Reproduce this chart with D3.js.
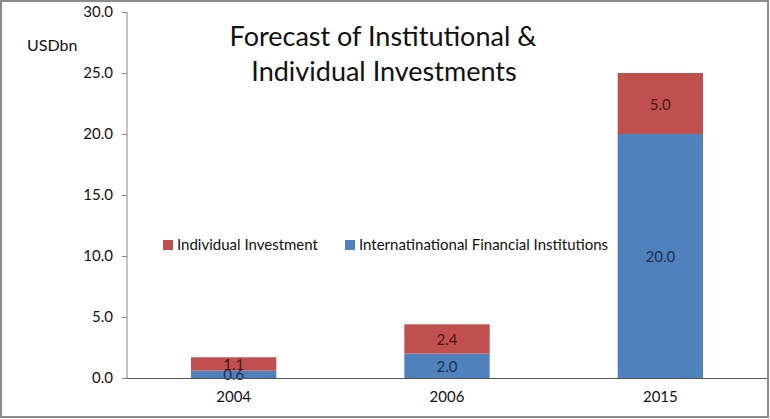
<!DOCTYPE html>
<html>
<head>
<meta charset="utf-8">
<title>Forecast of Institutional & Individual Investments</title>
<script src="https://cdn.jsdelivr.net/npm/d3@7"></script>
<style>
  body { margin: 0; background: #fff; }
  text { font-family: Lato, "Open Sans", sans-serif; }
</style>
</head>
<body>
<div id="chart"></div>
<script>
var years = ["2004", "2006", "2015"];
var institutional = [0.6, 2.0, 20.0];
var individual = [1.1, 2.4, 5.0];
var yTicks = [0, 5, 10, 15, 20, 25, 30];

var W = 770, H = 419;
var svg = d3.select("#chart").append("svg").attr("width", W).attr("height", H);

// outer frame
svg.append("rect").attr("x", 1).attr("y", 1).attr("width", W - 3).attr("height", H - 3)
  .attr("fill", "#fff").attr("stroke", "#8c8c8c").attr("stroke-width", 2);

var x = d3.scaleBand().domain(years).range([127, 767]).paddingInner(0.6).paddingOuter(0.3);
var y = d3.scaleLinear().domain([0, 30]).range([378, 12]);

var rows = years.map(function(yr, i) {
  return {year: yr, inst: institutional[i], ind: individual[i]};
});
var stack = d3.stack().keys(["inst", "ind"])(rows);
var colors = {inst: "#4f81bd", ind: "#c0504d"};
var labelColors = {inst: "#1c2f52", ind: "#4a1616"};

// y axis
var yAxis = svg.append("g").attr("transform", "translate(127,0)")
  .call(d3.axisLeft(y).tickValues(yTicks).tickSize(5).tickPadding(9).tickFormat(d3.format(".1f")));
yAxis.select(".domain").attr("stroke", "#888").attr("d", "M0," + y(30) + "V" + y(0));
yAxis.selectAll(".tick line").attr("stroke", "#888");
yAxis.selectAll(".tick text").attr("font-size", 15).attr("fill", "#111")
  .style("font-family", "Lato, sans-serif");

// bars
stack.forEach(function(layer) {
  svg.append("g").selectAll("rect").data(layer).enter().append("rect")
    .attr("x", function(d) { return x(d.data.year); })
    .attr("width", x.bandwidth())
    .attr("y", function(d) { return y(d[1]); })
    .attr("height", function(d) { return y(d[0]) - y(d[1]); })
    .attr("fill", colors[layer.key]);
});
stack.forEach(function(layer) {
  svg.append("g").selectAll("text").data(layer).enter().append("text")
    .attr("x", function(d) { return x(d.data.year) + x.bandwidth() / 2; })
    .attr("y", function(d) { return (y(d[0]) + y(d[1])) / 2 + 6; })
    .attr("text-anchor", "middle").attr("font-size", 15)
    .attr("fill", labelColors[layer.key])
    .text(function(d) { return d3.format(".1f")(d[1] - d[0]); });
});

// x axis
var xAxis = svg.append("g").attr("transform", "translate(0,378)")
  .call(d3.axisBottom(x).tickSize(0).tickPadding(13));
xAxis.select(".domain").attr("stroke", "#555").attr("d", "M127,0.5H767");
xAxis.selectAll(".tick text").attr("font-size", 15).attr("fill", "#111")
  .style("font-family", "Lato, sans-serif");

// unit label
svg.append("text").attr("x", 27).attr("y", 51).attr("font-size", 16).attr("fill", "#111").text("USDbn");

// title
var title = svg.append("text").attr("text-anchor", "middle").attr("font-size", 27).attr("fill", "#111");
title.append("tspan").attr("x", 383).attr("y", 46).text("Forecast of Institutional &");
title.append("tspan").attr("x", 384).attr("y", 81).text("Individual Investments");

// legend
var legend = [
  {name: "Individual Investment", key: "ind", x: 163},
  {name: "Internatinational Financial Institutions", key: "inst", x: 345}
];
var lg = svg.append("g").selectAll("g").data(legend).enter().append("g")
  .attr("transform", function(d) { return "translate(" + d.x + ",245)"; });
lg.append("rect").attr("x", 0).attr("y", -5).attr("width", 10).attr("height", 10)
  .attr("fill", function(d) { return colors[d.key]; });
lg.append("text").attr("x", 14).attr("y", 5).attr("font-size", 15).attr("fill", "#111")
  .text(function(d) { return d.name; });
</script>
</body>
</html>
